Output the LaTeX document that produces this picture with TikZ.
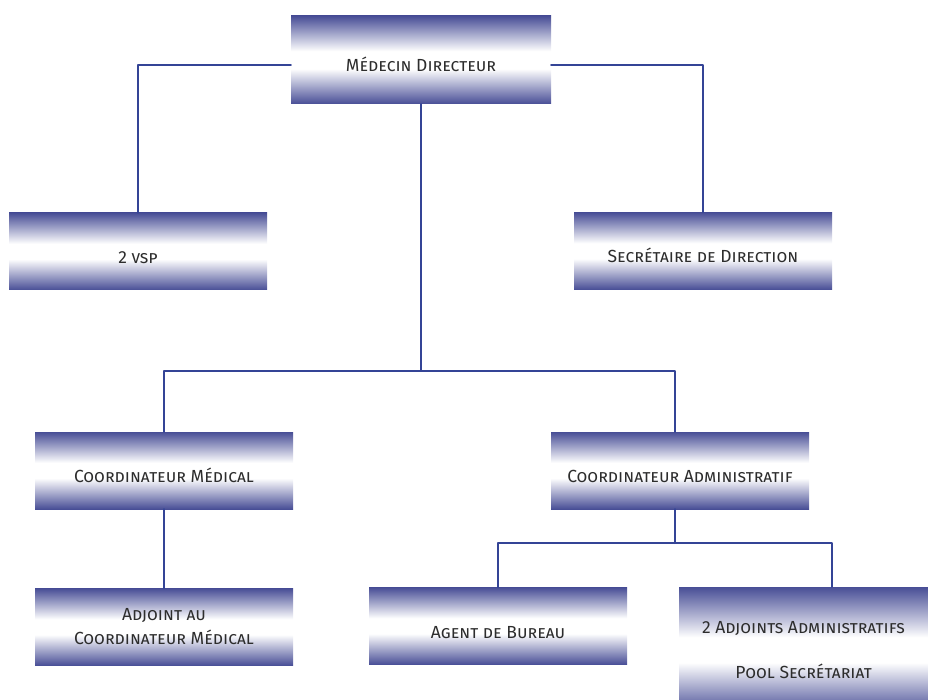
\documentclass[tikz,border=0pt]{standalone}
\usepackage{fontspec}
\setmainfont{Fira Sans}
\usetikzlibrary{positioning}
\definecolor{boxedge}{RGB}{72,78,150}
\definecolor{linkblue}{RGB}{52,68,150}
\definecolor{txtgray}{RGB}{45,45,45}
\pgfdeclareverticalshading{boxfade}{100bp}{color(0bp)=(boxedge); color(25bp)=(boxedge); color(45bp)=(white); color(55bp)=(white); color(75bp)=(boxedge); color(100bp)=(boxedge)}
\begin{document}
\begin{tikzpicture}[x=1pt,y=-1pt,line cap=round,line join=round,
	post/.style={shading=boxfade,minimum width=258pt,minimum height=77pt,inner sep=0pt,align=center,text=txtgray,font=\fontsize{17.5}{24}\selectfont\scshape},
	oneline/.style={text height=24pt,text depth=0pt},
	link/.style={draw=linkblue,line width=2pt}]
		\clip (0,0) rectangle (928,700);
		\node[post,oneline,minimum width=260pt,minimum height=88pt] (dir) at (421,60) {Médecin Directeur};
		\node[post,oneline] (vsp) at (138,251.5) {2 vsp};
		\node[post,oneline] (sec) at (703,251) {Secrétaire de Direction};
		\node[post,oneline] (cmed) at (164,470.5) {Coordinateur Médical};
		\node[post,oneline] (cadm) at (680,470.5) {Coordinateur Administratif};
		\node[post] (adj) at (164,627) {Adjoint au\\Coordinateur Médical};
		\node[post,oneline] (agent) at (498,626) {Agent de Bureau};
		\node[post,minimum width=249pt,minimum height=126pt] (pool) at (803.5,650) {2 Adjoints Administratifs\\[21pt]Pool Secrétariat};
		\coordinate (split1) at (421,370.5);
		\coordinate (split2) at (675,543);
		\draw[link] ([yshift=-5pt]dir.west) -| (vsp.north);
		\draw[link] ([yshift=-5pt]dir.east) -| (sec.north);
		\draw[link] (dir.south) -- (split1);
		\draw[link] (cmed.north) |- (split1) -| ([xshift=-5pt]cadm.north);
		\draw[link] (cmed.south) -- (adj.north);
		\draw[link] ([xshift=-5pt]cadm.south) -- (split2);
		\draw[link] (agent.north) |- (split2) -| ([xshift=28.5pt]pool.north);
\end{tikzpicture}
\end{document}
